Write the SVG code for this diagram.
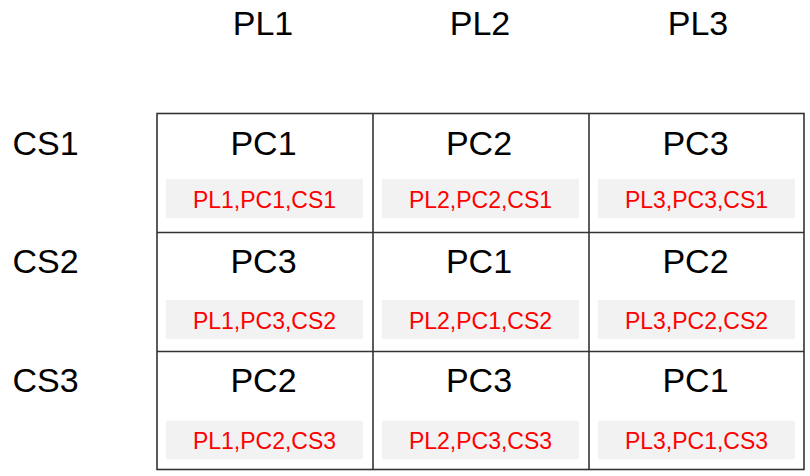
<svg xmlns="http://www.w3.org/2000/svg" width="810" height="476" viewBox="0 0 810 476">
<style>
.hdr{font-family:"Liberation Sans",Arial,sans-serif;font-size:34px;fill:#000}
.pc{font-family:"Liberation Sans",Arial,sans-serif;font-size:34px;fill:#000;text-anchor:middle}
.tag{font-family:"Liberation Sans",Arial,sans-serif;font-size:23px;fill:#ff0000;text-anchor:middle}
.box{fill:#f2f2f2}
.grid{stroke:#333;stroke-width:1.6;fill:none}
</style>
<rect width="810" height="476" fill="#fff"/>
<g id="headers">
<text class="hdr" x="263" y="35" text-anchor="middle">PL1</text>
<text class="hdr" x="480" y="35" text-anchor="middle">PL2</text>
<text class="hdr" x="698" y="35" text-anchor="middle">PL3</text>
<text class="hdr" x="12.5" y="155">CS1</text>
<text class="hdr" x="12.5" y="273">CS2</text>
<text class="hdr" x="12.5" y="392">CS3</text>
</g>
<g id="grid">
<rect class="grid" x="157" y="113.5" width="647" height="356"/>
<line class="grid" x1="373" y1="113.5" x2="373" y2="469.5"/>
<line class="grid" x1="589" y1="113.5" x2="589" y2="469.5"/>
<line class="grid" x1="157" y1="232.5" x2="804" y2="232.5"/>
<line class="grid" x1="157" y1="351.5" x2="804" y2="351.5"/>
</g>
<g id="cell-1-1"><rect class="box" x="166" y="179" width="197" height="39"/><text class="pc" x="263.5" y="155">PC1</text><text class="tag" x="264.5" y="207.5">PL1,PC1,CS1</text></g>
<g id="cell-1-2"><rect class="box" x="382" y="179" width="197" height="39"/><text class="pc" x="479" y="155">PC2</text><text class="tag" x="480.5" y="207.5">PL2,PC2,CS1</text></g>
<g id="cell-1-3"><rect class="box" x="598" y="179" width="197" height="39"/><text class="pc" x="695.5" y="155">PC3</text><text class="tag" x="696.5" y="207.5">PL3,PC3,CS1</text></g>
<g id="cell-2-1"><rect class="box" x="166" y="300" width="197" height="39"/><text class="pc" x="263.5" y="273.3">PC3</text><text class="tag" x="264.5" y="328.5">PL1,PC3,CS2</text></g>
<g id="cell-2-2"><rect class="box" x="382" y="300" width="197" height="39"/><text class="pc" x="479" y="273.3">PC1</text><text class="tag" x="480.5" y="328.5">PL2,PC1,CS2</text></g>
<g id="cell-2-3"><rect class="box" x="598" y="300" width="197" height="39"/><text class="pc" x="695.5" y="273.3">PC2</text><text class="tag" x="696.5" y="328.5">PL3,PC2,CS2</text></g>
<g id="cell-3-1"><rect class="box" x="166" y="420.7" width="197" height="38.6"/><text class="pc" x="263.5" y="391.7">PC2</text><text class="tag" x="264.5" y="449">PL1,PC2,CS3</text></g>
<g id="cell-3-2"><rect class="box" x="382" y="420.7" width="197" height="38.6"/><text class="pc" x="479" y="391.7">PC3</text><text class="tag" x="480.5" y="449">PL2,PC3,CS3</text></g>
<g id="cell-3-3"><rect class="box" x="598" y="420.7" width="197" height="38.6"/><text class="pc" x="695.5" y="391.7">PC1</text><text class="tag" x="696.5" y="449">PL3,PC1,CS3</text></g>
</svg>
